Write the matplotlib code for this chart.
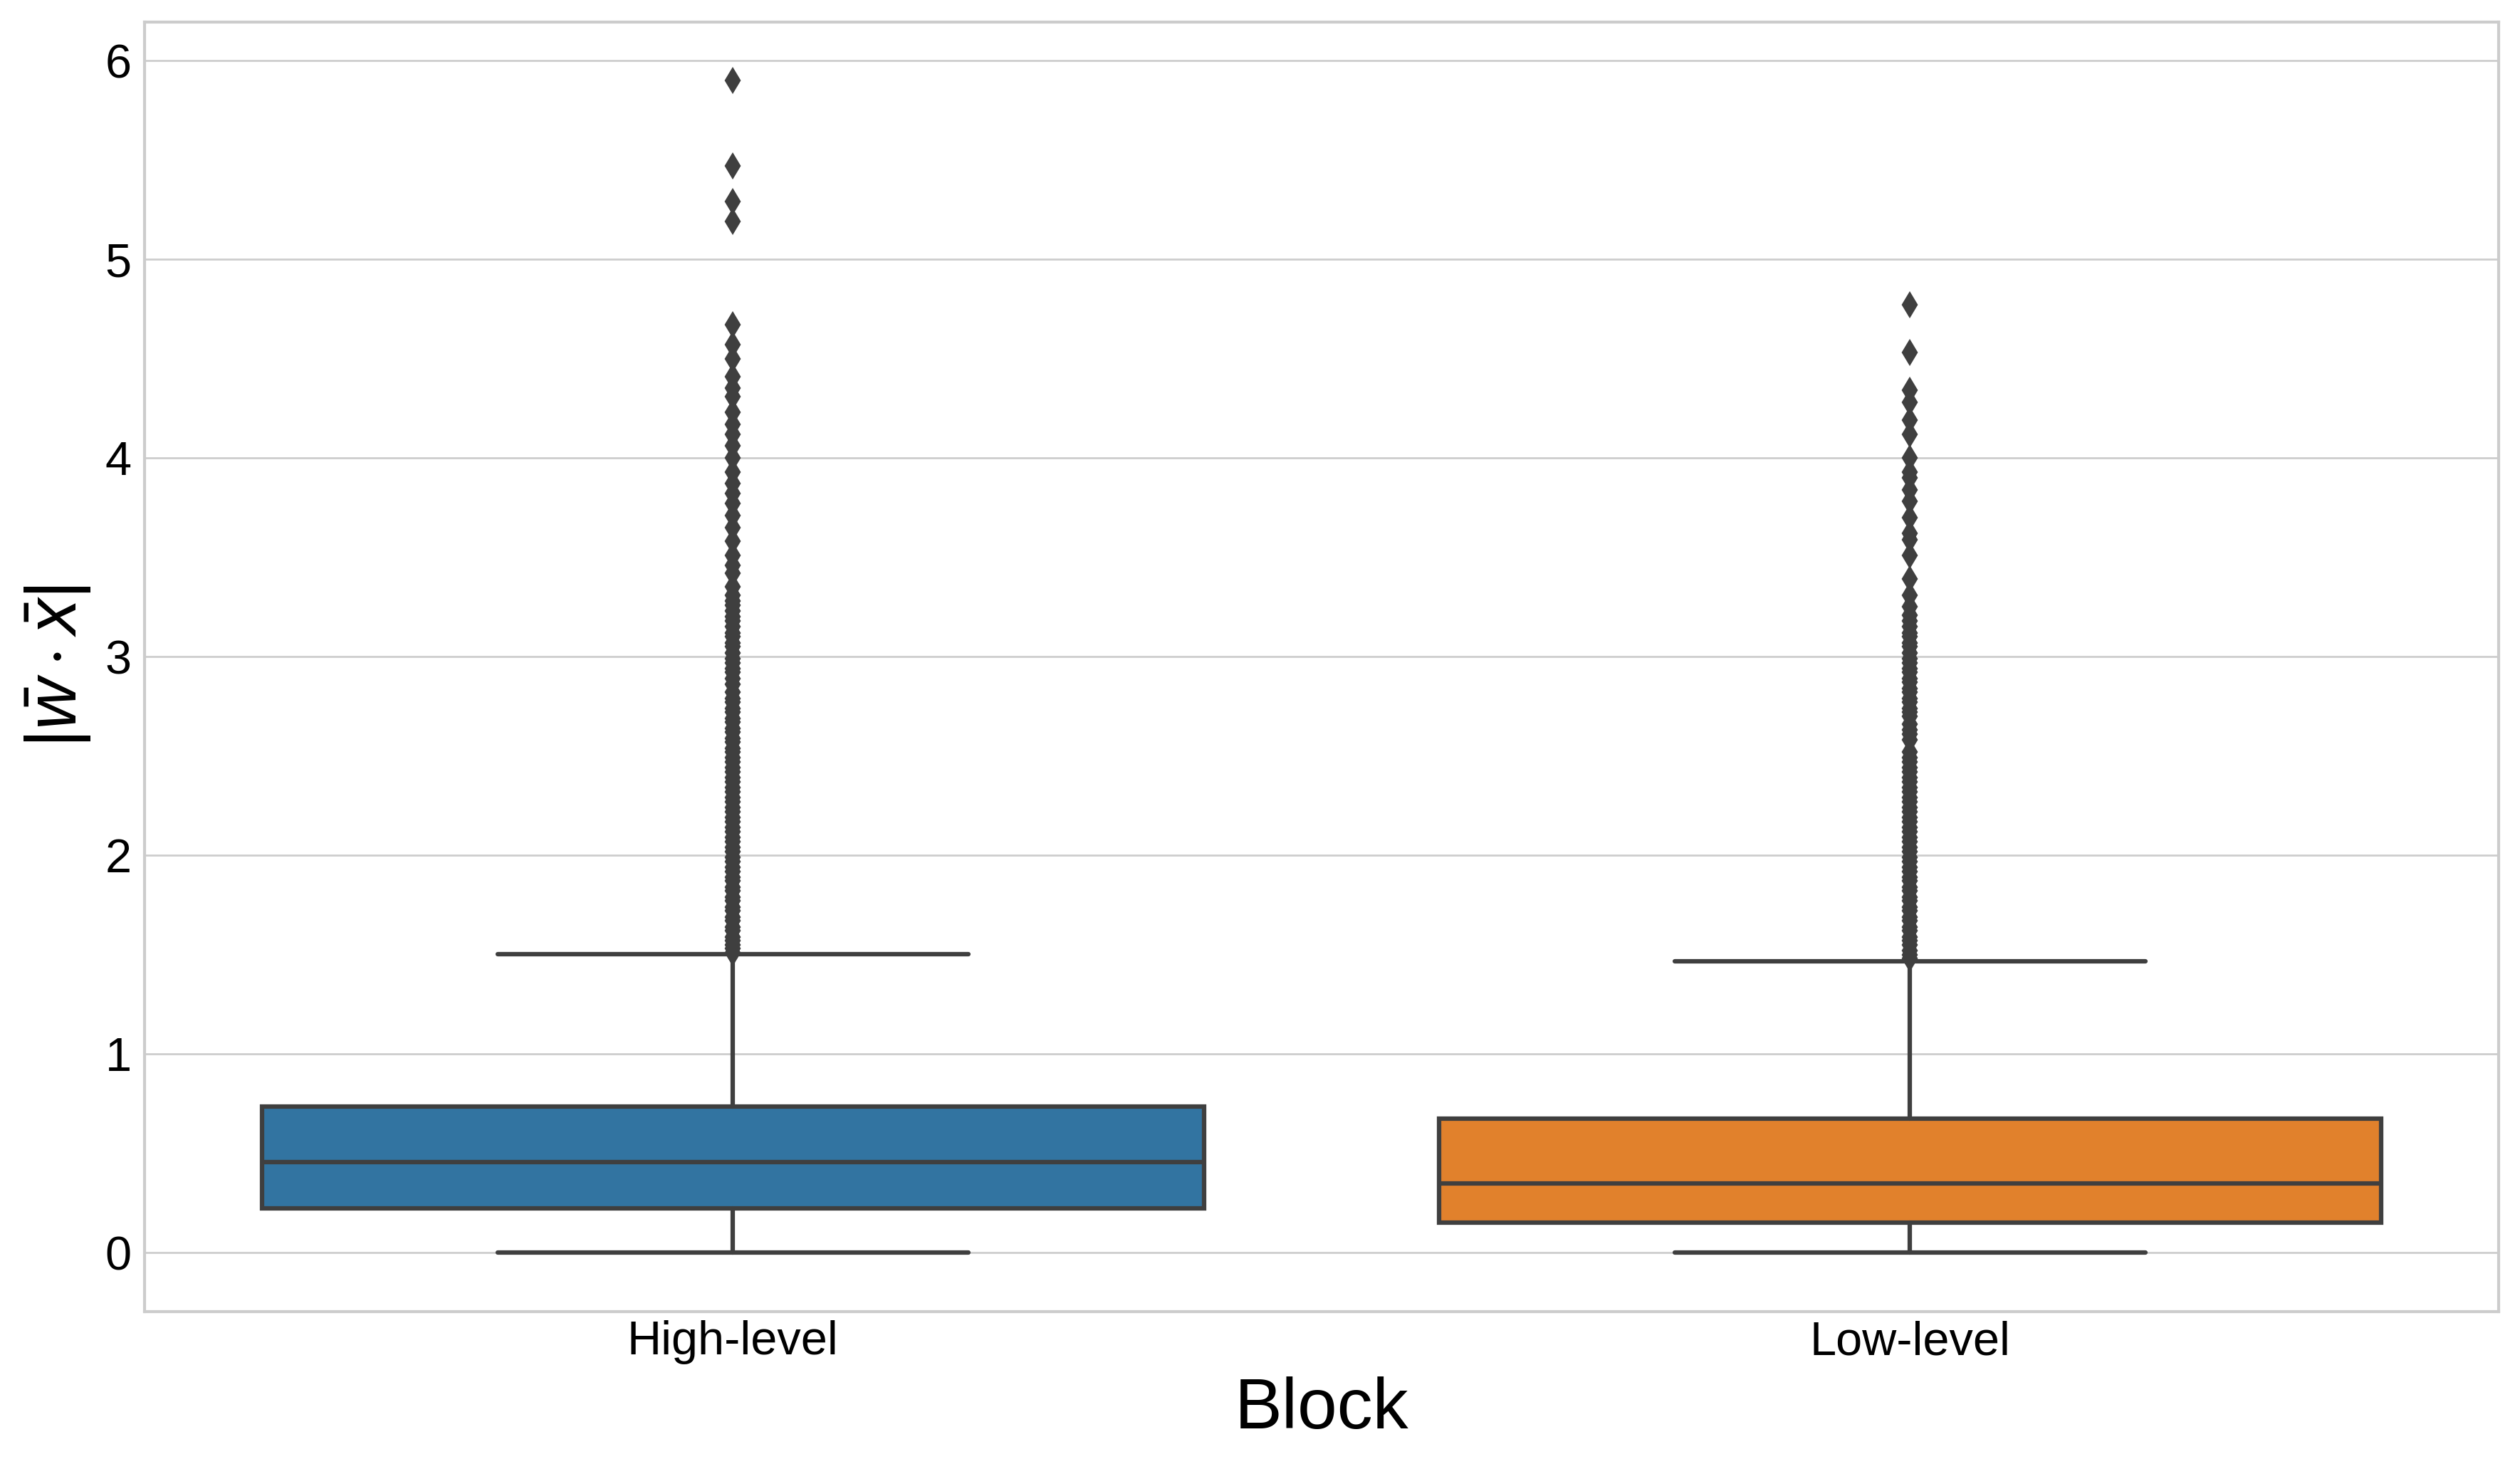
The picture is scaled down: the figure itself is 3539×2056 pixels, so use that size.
import matplotlib
matplotlib.use("Agg")
import matplotlib.pyplot as plt

# box statistics
blocks = ["High-level", "Low-level"]
q1s = [0.224, 0.150]
medians = [0.457, 0.347]
q3s = [0.736, 0.676]
whis_lo = [0.0, 0.0]
whis_hi = [1.503, 1.467]

# outliers (read top-down, dense run estimated)
fliers_high = [
    5.90, 5.47, 5.29, 5.19, 4.67, 4.57, 4.50, 4.41, 4.35, 4.31, 4.23, 4.17,
    4.12, 4.06, 4.00, 3.93, 3.87, 3.82, 3.77, 3.71, 3.65, 3.58, 3.51, 3.46,
    3.42, 3.35, 3.31, 3.28, 3.26, 3.23, 3.20, 3.18, 3.15, 3.12, 3.10, 3.07,
    3.05, 3.02, 2.99, 2.97, 2.94, 2.92, 2.89, 2.86, 2.82, 2.79, 2.77, 2.74,
    2.72, 2.69, 2.67, 2.64, 2.62, 2.59, 2.57, 2.54, 2.52, 2.49, 2.47, 2.44,
    2.42, 2.39, 2.37, 2.34, 2.32, 2.29, 2.27, 2.24, 2.22, 2.19, 2.17, 2.14,
    2.12, 2.09, 2.07, 2.04, 2.02, 1.99, 1.97, 1.94, 1.92, 1.89, 1.87, 1.84,
    1.82, 1.79, 1.77, 1.74, 1.72, 1.69, 1.67, 1.64, 1.62, 1.59, 1.57, 1.55,
    1.53, 1.51,
]
fliers_low = [
    4.77, 4.53, 4.34, 4.28, 4.19, 4.12, 4.00, 3.93, 3.90, 3.84, 3.78, 3.70,
    3.62, 3.59, 3.51, 3.39, 3.31, 3.25, 3.21, 3.18, 3.15, 3.12, 3.10, 3.07,
    3.05, 3.02, 2.99, 2.97, 2.94, 2.92, 2.89, 2.87, 2.84, 2.82, 2.79, 2.77,
    2.74, 2.72, 2.70, 2.66, 2.63, 2.61, 2.58, 2.52, 2.49, 2.47, 2.44, 2.42,
    2.39, 2.37, 2.34, 2.32, 2.29, 2.27, 2.24, 2.22, 2.19, 2.17, 2.14, 2.12,
    2.09, 2.07, 2.04, 2.02, 1.99, 1.97, 1.94, 1.92, 1.89, 1.87, 1.84, 1.82,
    1.79, 1.77, 1.74, 1.72, 1.69, 1.67, 1.64, 1.62, 1.59, 1.57, 1.55, 1.52,
    1.50, 1.48,
]
box_colors = ["#3274a1", "#e1812c"]
line_gray = "#3f3f3f"

plt.rcParams["font.family"] = ["Liberation Sans", "DejaVu Sans"]
plt.rcParams["mathtext.fontset"] = "custom"
plt.rcParams["mathtext.rm"] = "Liberation Sans"
plt.rcParams["mathtext.it"] = "Liberation Sans:italic"
plt.rcParams["lines.solid_capstyle"] = "round"

fig = plt.figure(figsize=(3539 / 300, 2056 / 300), dpi=300)
ax = fig.add_axes([0.0573, 0.1043, 0.9915 - 0.0573, 0.9851 - 0.1043])

stats = []
for i, name in enumerate(blocks):
    stats.append({
        "label": name,
        "q1": q1s[i], "med": medians[i], "q3": q3s[i],
        "whislo": whis_lo[i], "whishi": whis_hi[i],
        "fliers": [fliers_high, fliers_low][i],
    })

lw = 1.5
bp = ax.bxp(stats, positions=[0, 1], widths=0.8, patch_artist=True,
            boxprops=dict(edgecolor=line_gray, linewidth=lw),
            medianprops=dict(color=line_gray, linewidth=lw),
            whiskerprops=dict(color=line_gray, linewidth=lw),
            capprops=dict(color=line_gray, linewidth=lw),
            flierprops=dict(marker="d", markersize=5, markerfacecolor=line_gray,
                            markeredgecolor=line_gray, linestyle="none"))
for patch, c in zip(bp["boxes"], box_colors):
    patch.set_facecolor(c)

ax.set_xlim(-0.5, 1.5)
ax.set_xticks([0, 1])
ax.set_xticklabels(blocks)
ax.set_yticks([0, 1, 2, 3, 4, 5, 6])

ax.set_axisbelow(True)
ax.yaxis.grid(True, color="#cccccc", linewidth=0.65)
ax.xaxis.grid(False)
for sp in ax.spines.values():
    sp.set_color("#cccccc")
    sp.set_linewidth(1.0)

ax.tick_params(axis="both", length=0, labelsize=16, colors="black")
ax.tick_params(axis="x", pad=3)
ax.tick_params(axis="y", pad=4.3)

ax.set_xlabel("Block", fontsize=24, labelpad=4)
ax.set_ylabel(r"$|\bar{w} \cdot \bar{x}|$", fontsize=24)
ax.yaxis.set_label_coords(-0.022, 0.5)

fig.savefig("out.png", dpi=300)
